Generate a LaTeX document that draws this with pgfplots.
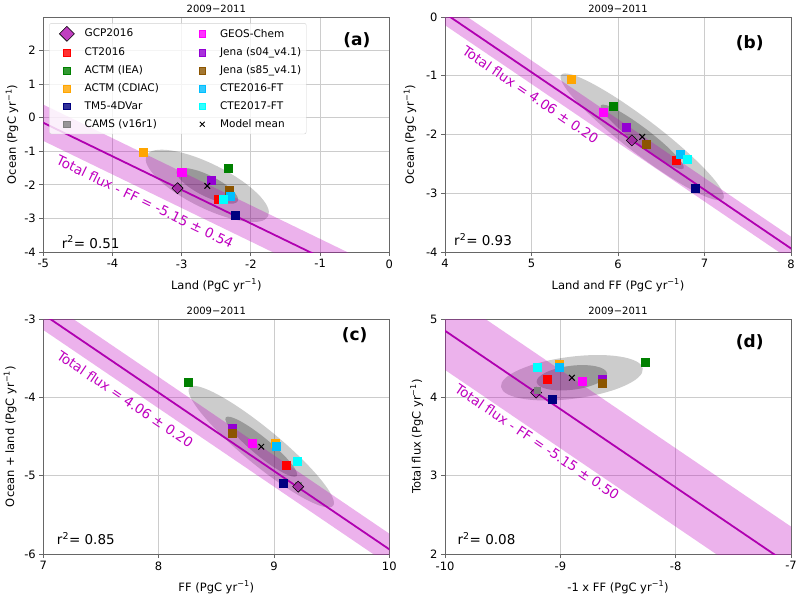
\documentclass[border=0pt]{standalone}
\usepackage{fontspec}
\setmainfont{DejaVu Sans}
\usepackage{pgfplots}
\pgfplotsset{compat=1.18}

\definecolor{bandm}{RGB}{191,0,191}
\definecolor{linem}{RGB}{176,0,176}
\definecolor{gcp}{RGB}{176,16,176}
\definecolor{ct}{RGB}{255,0,0}
\definecolor{iea}{RGB}{0,128,0}
\definecolor{cdiac}{RGB}{255,165,0}
\definecolor{tmfive}{RGB}{0,0,128}
\definecolor{cams}{RGB}{128,128,128}
\definecolor{geos}{RGB}{255,0,255}
\definecolor{jenaA}{RGB}{148,0,211}
\definecolor{jenaB}{RGB}{140,85,0}
\definecolor{cteA}{RGB}{0,191,255}
\definecolor{cteB}{RGB}{0,255,255}

\tikzset{
  linetext/.style={text=bandm, font=\fontsize{13.5}{15}\selectfont, inner sep=0pt},
  rtext/.style={anchor=west, font=\fontsize{13.5}{15}\selectfont, inner sep=0pt},
  plabel/.style={font=\bfseries\fontsize{17}{20}\selectfont, inner sep=0pt},
}
\pgfplotsset{
  every axis title shift=0pt,
  panel/.style={scale only axis, width=346pt, height=235pt, anchor=north west,
    tick align=outside, tick pos=left, major tick length=4pt,
    tick style={gray!80!black, line width=0.8pt},
    axis line style={gray!80!black, line width=0.9pt},
    grid=major, grid style={gray!40, line width=0.8pt},
    /pgf/number format/assume math mode=true,
    tick label style={font=\fontsize{11.5}{13}\selectfont},
    label style={font=\fontsize{11.5}{13}\selectfont},
    xlabel style={at={(axis description cs:0.5,-0.142)}, anchor=center},
    title={2009−2011},
    title style={font=\fontsize{10}{12}\selectfont, at={(axis description cs:0.5,1.036)}, anchor=center, inner sep=0pt},
  },
  mk/.style={only marks, mark=square*, mark size=4pt, color=#1, forget plot},
  gcpmk/.style={only marks, mark=square*, mark size=3.9pt, mark options={rotate=45, fill=gcp, draw=black, line width=0.6pt, fill opacity=0.72}, forget plot},
  camsmk/.style={only marks, mark=square*, mark size=3.4pt, color=cams, forget plot},
  meanmk/.style={only marks, mark=x, mark size=4pt, black, line width=1pt, forget plot},
  myband/.style={fill=bandm, fill opacity=0.3, draw=none, forget plot},
  myline/.style={linem, line width=1.8pt, forget plot},
}
\newcommand{\covell}[6]{\fill[black, opacity=#6, rotate around={#3:(axis cs:#1,#2)}] (axis cs:#1,#2) ellipse [x radius=#4pt, y radius=#5pt];}

\begin{document}
\begin{tikzpicture}
\path[use as bounding box] (0,0) rectangle (800pt,-595pt);

% ---------------- (a)
\begin{axis}[panel, at={(43.3pt,-17pt)}, xmin=-5, xmax=0, ymin=-4, ymax=3,
  xtick={-5,-4,-3,-2,-1,0}, ytick={-4,-3,-2,-1,0,1,2},
  xlabel={Land (PgC yr\textsuperscript{−1})}, ylabel={Ocean (PgC yr\textsuperscript{−1})},
  ylabel style={at={(axis description cs:-0.0905,0.5)}, anchor=center},
  legend columns=2, legend cell align=left,
  legend image code/.code={\draw[#1, draw=none] plot coordinates {(14.4pt,0pt)}; \path[draw=none, fill=none] (0pt,0pt) -- (30.2pt,0pt);},
  legend style={at={(axis description cs:0.0173,0.974)}, anchor=north west, draw=gray!35, rounded corners=2pt,
    fill=white, fill opacity=0.8, text opacity=1, font=\fontsize{10.5}{12.5}\selectfont, row sep=4.5pt,
    inner xsep=3pt, inner ysep=3pt, /tikz/every even column/.append style={column sep=27pt}},
]
\addlegendimage{mark=square*, mark size=5.3pt, mark options={rotate=45, fill=gcp, draw=black, line width=0.6pt}}
\addlegendentry{GCP2016}
\addlegendimage{mark=square*, mark size=3.3pt, color=geos}
\addlegendentry{GEOS-Chem}
\addlegendimage{mark=square*, mark size=3.3pt, color=ct}
\addlegendentry{CT2016}
\addlegendimage{mark=square*, mark size=3.3pt, color=jenaA}
\addlegendentry{Jena (s04\_v4.1)}
\addlegendimage{mark=square*, mark size=3.3pt, color=iea}
\addlegendentry{ACTM (IEA)}
\addlegendimage{mark=square*, mark size=3.3pt, color=jenaB}
\addlegendentry{Jena (s85\_v4.1)}
\addlegendimage{mark=square*, mark size=3.3pt, color=cdiac}
\addlegendentry{ACTM (CDIAC)}
\addlegendimage{mark=square*, mark size=3.3pt, color=cteA}
\addlegendentry{CTE2016-FT}
\addlegendimage{mark=square*, mark size=3.3pt, color=tmfive}
\addlegendentry{TM5-4DVar}
\addlegendimage{mark=square*, mark size=3.3pt, color=cteB}
\addlegendentry{CTE2017-FT}
\addlegendimage{mark=square*, mark size=3.3pt, color=cams}
\addlegendentry{CAMS (v16r1)}
\addlegendimage{mark=x, mark size=3.5pt, black, line width=1pt, mark options={draw=black}}
\addlegendentry{Model mean}

\addplot[camsmk] coordinates {(-3.05,-2.08)};
\addplot[gcpmk] coordinates {(-3.06,-2.10)};
\addplot[mk=ct] coordinates {(-2.47,-2.43)};
\addplot[mk=iea] coordinates {(-2.33,-1.51)};
\addplot[mk=cdiac] coordinates {(-3.55,-1.04)};
\addplot[mk=tmfive] coordinates {(-2.22,-2.91)};
\addplot[mk=geos] coordinates {(-3.00,-1.61)};
\addplot[mk=jenaA] coordinates {(-2.57,-1.85)};
\addplot[mk=jenaB] coordinates {(-2.32,-2.15)};
\addplot[mk=cteA] coordinates {(-2.30,-2.33)};
\addplot[mk=cteB] coordinates {(-2.40,-2.42)};
\addplot[meanmk] coordinates {(-2.63,-2.03)};
\covell{-2.63}{-2.03}{-26.5}{68}{22}{0.2}
\covell{-2.63}{-2.03}{-26.5}{34}{10.5}{0.25}
\addplot[myband] coordinates {(-6,1.39) (1,-5.61) (1,-6.69) (-6,0.31)} -- cycle;
\addplot[myline] coordinates {(-6,0.85) (1,-6.15)};
\node[linetext, rotate=-25.9] at (axis cs:-3.53,-2.50) {Total flux - FF = -5.15 ± 0.54};
\node[rtext] at (axis description cs:0.053,0.042) {r\textsuperscript{2}= 0.51};
\node[plabel] at (axis description cs:0.906,0.902) {(a)};
\end{axis}

% ---------------- (b)
\begin{axis}[panel, at={(445pt,-17pt)}, xmin=4, xmax=8, ymin=-4, ymax=0,
  xtick={4,5,6,7,8}, ytick={-4,-3,-2,-1,0},
  xlabel={Land and FF (PgC yr\textsuperscript{−1})}, ylabel={Ocean (PgC yr\textsuperscript{−1})},
  ylabel style={at={(axis description cs:-0.101,0.5)}, anchor=center},
]
\addplot[camsmk] coordinates {(6.16,-2.08)};
\addplot[gcpmk] coordinates {(6.16,-2.10)};
\addplot[mk=ct] coordinates {(6.67,-2.44)};
\addplot[mk=iea] coordinates {(5.95,-1.52)};
\addplot[mk=cdiac] coordinates {(5.46,-1.055)};
\addplot[mk=tmfive] coordinates {(6.89,-2.92)};
\addplot[mk=geos] coordinates {(5.83,-1.62)};
\addplot[mk=jenaA] coordinates {(6.09,-1.87)};
\addplot[mk=jenaB] coordinates {(6.33,-2.17)};
\addplot[mk=cteA] coordinates {(6.72,-2.33)};
\addplot[mk=cteB] coordinates {(6.80,-2.42)};
\addplot[meanmk] coordinates {(6.28,-2.04)};
\covell{6.28}{-2.04}{-37.4}{102}{17}{0.2}
\covell{6.28}{-2.04}{-37.4}{52}{8.5}{0.25}
\addplot[myband] coordinates {(3,1.26) (9,-4.74) (9,-5.14) (3,0.86)} -- cycle;
\addplot[myline] coordinates {(3,1.06) (9,-4.94)};
\node[linetext, rotate=-34.2] at (axis cs:4.99,-1.32) {Total flux = 4.06 ± 0.20};
\node[rtext] at (axis description cs:0.026,0.052) {r\textsuperscript{2}= 0.93};
\node[plabel] at (axis description cs:0.881,0.889) {(b)};
\end{axis}

% ---------------- (c)
\begin{axis}[panel, at={(43.3pt,-319pt)}, xmin=7, xmax=10, ymin=-6, ymax=-3,
  xtick={7,8,9,10}, ytick={-6,-5,-4,-3},
  xlabel={FF (PgC yr\textsuperscript{−1})}, ylabel={Ocean + land (PgC yr\textsuperscript{−1})},
  ylabel style={at={(axis description cs:-0.096,0.5)}, anchor=center},
]
\addplot[camsmk] coordinates {(9.21,-5.13)};
\addplot[gcpmk] coordinates {(9.21,-5.14)};
\addplot[mk=ct] coordinates {(9.11,-4.87)};
\addplot[mk=iea] coordinates {(8.26,-3.81)};
\addplot[mk=cdiac] coordinates {(9.01,-4.59)};
\addplot[mk=tmfive] coordinates {(9.08,-5.09)};
\addplot[mk=geos] coordinates {(8.81,-4.59)};
\addplot[mk=jenaA] coordinates {(8.64,-4.40)};
\addplot[mk=jenaB] coordinates {(8.64,-4.455)};
\addplot[mk=cteA] coordinates {(9.02,-4.63)};
\addplot[mk=cteB] coordinates {(9.20,-4.82)};
\addplot[meanmk] coordinates {(8.89,-4.63)};
\covell{8.89}{-4.63}{-39.5}{93}{18}{0.2}
\covell{8.89}{-4.63}{-39.5}{46}{9}{0.25}
\addplot[myband] coordinates {(6,-1.74) (11,-6.74) (11,-7.14) (6,-2.14)} -- cycle;
\addplot[myline] coordinates {(6,-1.94) (11,-6.94)};
\node[linetext, rotate=-34.1] at (axis cs:7.71,-4.02) {Total flux = 4.06 ± 0.20};
\node[rtext] at (axis description cs:0.039,0.064) {r\textsuperscript{2}= 0.85};
\node[plabel] at (axis description cs:0.90,0.932) {(c)};
\end{axis}

% ---------------- (d)
\begin{axis}[panel, at={(445pt,-319pt)}, xmin=-10, xmax=-7, ymin=2, ymax=5,
  xtick={-10,-9,-8,-7}, ytick={2,3,4,5},
  xlabel={-1 x FF (PgC yr\textsuperscript{−1})}, ylabel={Total flux (PgC yr\textsuperscript{−1})},
  ylabel style={at={(axis description cs:-0.082,0.5)}, anchor=center},
]
\addplot[gcpmk] coordinates {(-9.21,4.06)};
\addplot[camsmk] coordinates {(-9.20,4.09)};
\addplot[mk=ct] coordinates {(-9.11,4.23)};
\addplot[mk=iea] coordinates {(-8.26,4.445)};
\addplot[mk=cdiac] coordinates {(-9.01,4.42)};
\addplot[mk=tmfive] coordinates {(-9.07,3.98)};
\addplot[mk=geos] coordinates {(-8.81,4.21)};
\addplot[mk=jenaA] coordinates {(-8.64,4.23)};
\addplot[mk=jenaB] coordinates {(-8.64,4.18)};
\addplot[mk=cteA] coordinates {(-9.01,4.385)};
\addplot[mk=cteB] coordinates {(-9.20,4.385)};
\addplot[meanmk] coordinates {(-8.90,4.25)};
\covell{-8.90}{4.25}{7.3}{71.5}{21}{0.2}
\covell{-8.90}{4.25}{7}{35.5}{12}{0.25}
\addplot[myband] coordinates {(-11,6.35) (-6,1.35) (-6,0.35) (-11,5.35)} -- cycle;
\addplot[myline] coordinates {(-11,5.85) (-6,0.85)};
\node[linetext, rotate=-34.1] at (axis cs:-9.20,3.43) {Total flux - FF = -5.15 ± 0.50};
\node[rtext] at (axis description cs:0.036,0.064) {r\textsuperscript{2}= 0.08};
\node[plabel] at (axis description cs:0.881,0.90) {(d)};
\end{axis}
\end{tikzpicture}
\end{document}
